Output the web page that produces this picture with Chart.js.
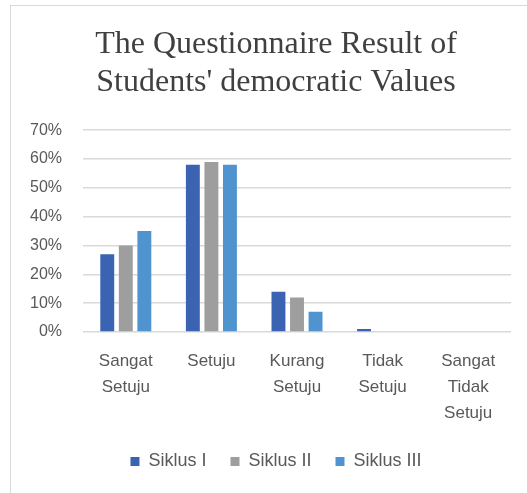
<!DOCTYPE html>
<html>
<head>
<meta charset="utf-8">
<script src="https://cdn.jsdelivr.net/npm/chart.js@4"></script>
<style>
  html, body { margin: 0; padding: 0; background: #fff; }
  #wrap { position: relative; width: 527px; height: 493px; }
  #frame { position: absolute; left: 10px; top: 5px; right: 0; bottom: 0; border-left: 1px solid #d9d9d9; border-top: 1px solid #d9d9d9; }
  canvas { position: absolute; left: 0; top: 0; }
</style>
</head>
<body>
<div id="wrap">
  <div id="frame"></div>
  <canvas id="c" width="527" height="493"></canvas>
</div>
<script>
const categories = [
  ['Sangat', 'Setuju'],
  ['Setuju'],
  ['Kurang', 'Setuju'],
  ['Tidak', 'Setuju'],
  ['Sangat', 'Tidak', 'Setuju']
];
const seriesNames = ['Siklus I', 'Siklus II', 'Siklus III'];
const siklus1 = [27, 58, 14, 1, 0];
const siklus2 = [30, 59, 12, 0, 0];
const siklus3 = [35, 58, 7, 0, 0];
const yTicks = [0, 10, 20, 30, 40, 50, 60, 70];
const titleLines = ['The Questionnaire Result of', "Students' democratic Values"];

const colors = ['#3a64b2', '#9e9e9e', '#4f94cf'];

new Chart(document.getElementById('c'), {
  type: 'bar',
  data: {
    labels: categories,
    datasets: [siklus1, siklus2, siklus3].map((d, i) => ({
      label: seriesNames[i],
      data: d,
      backgroundColor: colors[i],
      borderWidth: 0,
      categoryPercentage: 0.65,
      barPercentage: 0.75
    }))
  },
  options: {
    responsive: false,
    animation: false,
    devicePixelRatio: 1,
    layout: { padding: { left: 25, right: 0, top: 0, bottom: 12.5 } },
    plugins: {
      title: {
        display: true,
        text: titleLines,
        color: '#404040',
        font: { family: "'Liberation Serif', 'Times New Roman', serif", size: 32, weight: 'normal', lineHeight: 1.19 },
        padding: { top: 25.5, bottom: 28.5 }
      },
      legend: {
        position: 'bottom',
        labels: {
          boxWidth: 9,
          boxHeight: 9,
          padding: 24,
          color: '#595959',
          font: { family: "'Liberation Sans', Arial, sans-serif", size: 18 }
        }
      },
      tooltip: { enabled: false }
    },
    scales: {
      x: {
        grid: { display: false, drawTicks: false },
        border: { display: false },
        ticks: {
          color: '#595959',
          padding: 16,
          maxRotation: 0,
          autoSkip: false,
          font: { family: "'Liberation Sans', Arial, sans-serif", size: 17, lineHeight: 1.53 }
        },
        afterFit: (s) => { s.height = 96.5; }
      },
      y: {
        min: 0,
        max: 70,
        afterBuildTicks: (s) => { s.ticks = yTicks.map(v => ({ value: v })); },
        grid: { color: '#d9d9d9', lineWidth: 1.5, drawTicks: false },
        border: { display: false },
        ticks: {
          color: '#595959',
          padding: 21,
          font: { family: "'Liberation Sans', Arial, sans-serif", size: 16 },
          callback: (v) => v + '%'
        },
        afterFit: (s) => { s.width = 58; }
      },
      yRight: {
        type: 'linear',
        position: 'right',
        min: 0,
        max: 70,
        grid: { display: false, drawTicks: false },
        border: { display: false },
        ticks: { display: false },
        afterFit: (s) => { s.width = 16; }
      }
    }
  }
});
</script>
</body>
</html>
